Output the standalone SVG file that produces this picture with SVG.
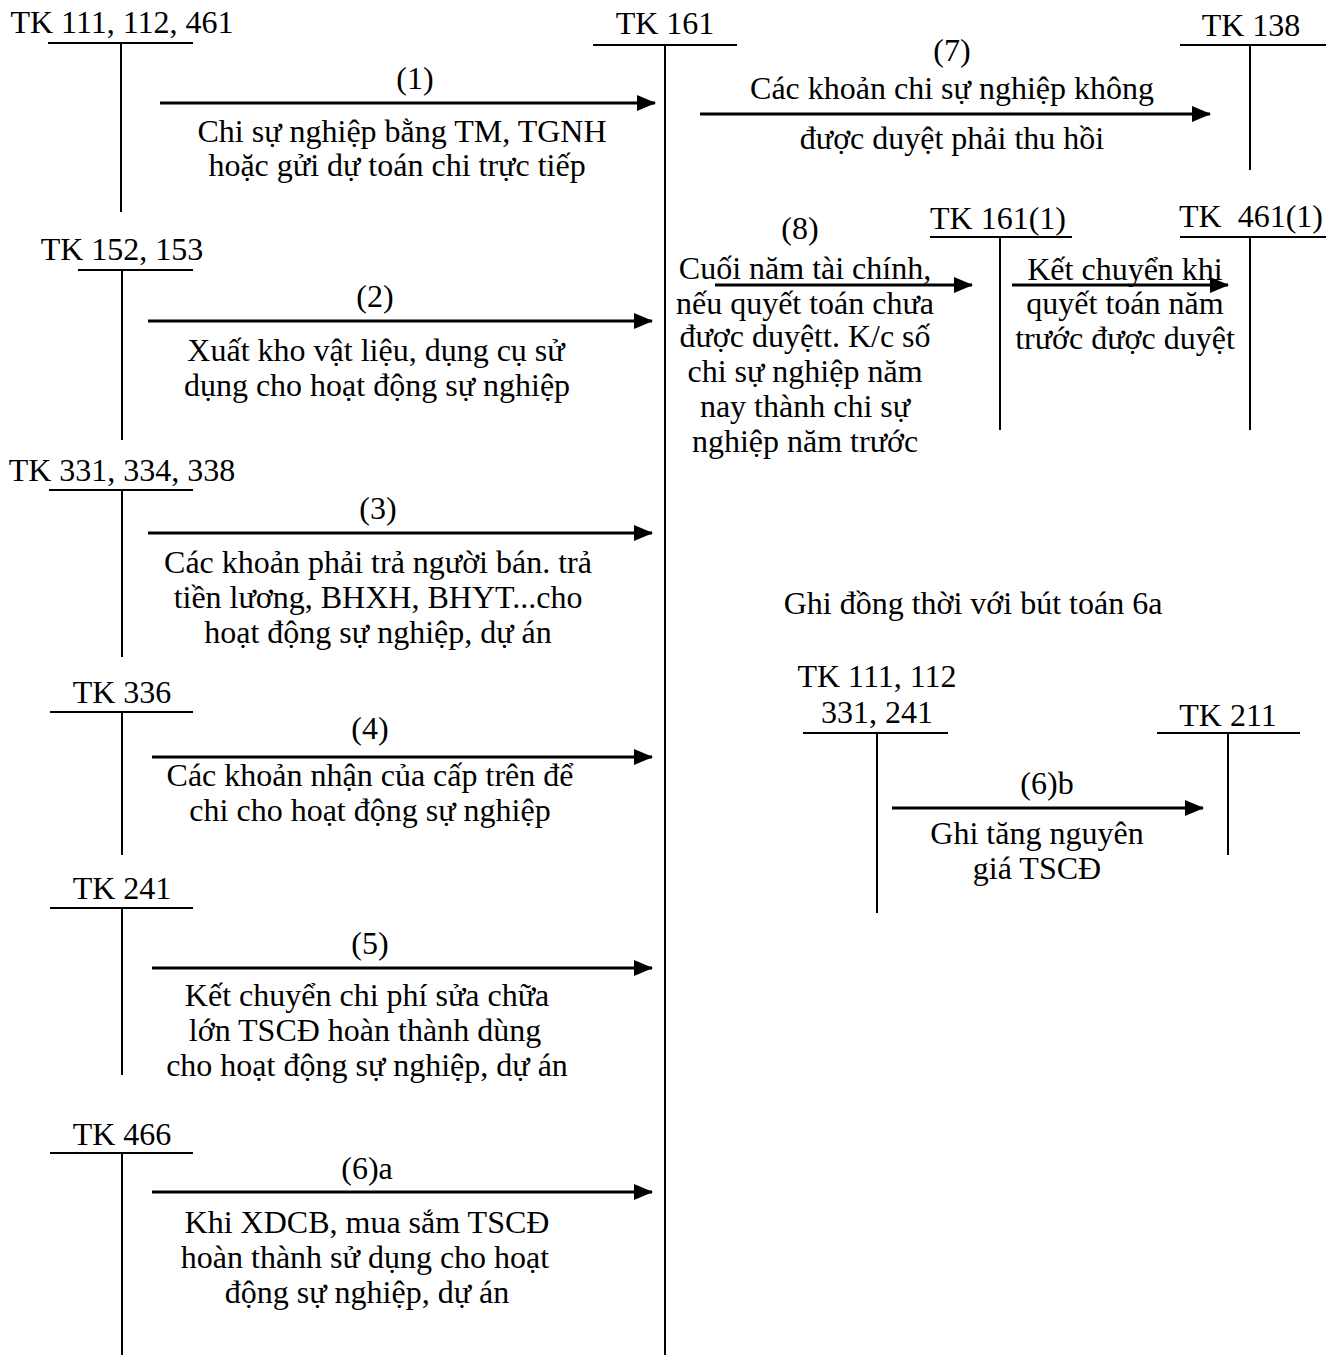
<svg xmlns="http://www.w3.org/2000/svg" width="1326" height="1365" viewBox="0 0 1326 1365">
<style>
text{font-family:"Liberation Serif","Times New Roman",serif;font-size:32px;fill:#000}
.c{text-anchor:middle}
.t{stroke:#000;stroke-width:2;fill:none}
.a{stroke:#000;stroke-width:3;fill:none;marker-end:url(#ah)}
</style>
<defs>
<marker id="ah" markerUnits="userSpaceOnUse" markerWidth="19" markerHeight="16" refX="18" refY="8" orient="auto">
<path d="M0,0 L19,8 L0,16 Z" fill="#000"/>
</marker>
</defs>
<rect width="1326" height="1365" fill="#fff"/>

<g id="tk111">
<text x="122" y="33" class="c">TK 111, 112, 461</text>
<path class="t" d="M48,43 H193 M121,43 V212"/>
</g>
<g id="tk152">
<text x="122" y="260" class="c">TK 152, 153</text>
<path class="t" d="M78,270 H193 M122,270 V440"/>
</g>
<g id="tk331">
<text x="122" y="481" class="c">TK 331, 334, 338</text>
<path class="t" d="M49,490 H193 M122,490 V657"/>
</g>
<g id="tk336">
<text x="122" y="703" class="c">TK 336</text>
<path class="t" d="M50,712 H193 M122,712 V855"/>
</g>
<g id="tk241">
<text x="122" y="899" class="c">TK 241</text>
<path class="t" d="M50,908 H193 M122,908 V1075"/>
</g>
<g id="tk466">
<text x="122" y="1145" class="c">TK 466</text>
<path class="t" d="M50,1153 H193 M122,1153 V1355"/>
</g>
<g id="tk161">
<text x="665" y="34" class="c">TK 161</text>
<path class="t" d="M593,45 H737 M665,45 V1355"/>
</g>
<g id="tk138">
<text x="1251" y="36" class="c">TK 138</text>
<path class="t" d="M1180,45 H1326 M1250,45 V170"/>
</g>
<g id="tk1611">
<text x="998" y="229" class="c">TK 161(1)</text>
<path class="t" d="M930,237 H1072 M1000,237 V430"/>
</g>
<g id="tk4611">
<text x="1251" y="227" class="c">TK&#160;&#160;461(1)</text>
<path class="t" d="M1180,237 H1326 M1250,237 V430"/>
</g>
<g id="tk111b">
<text x="877" y="687" class="c">TK 111, 112</text>
<text x="877" y="723" class="c">331, 241</text>
<path class="t" d="M803,733 H948 M877,733 V913"/>
</g>
<g id="tk211">
<text x="1228" y="726" class="c">TK 211</text>
<path class="t" d="M1157,733 H1300 M1228,733 V855"/>
</g>
<g id="note">
<text x="973" y="614" class="c">Ghi đồng thời với bút toán 6a</text>
</g>

<g id="connectors">
<path class="a" d="M160,103 H655"/>
<path class="a" d="M148,321 H652"/>
<path class="a" d="M148,533 H652"/>
<path class="a" d="M152,757 H652"/>
<path class="a" d="M152,968 H652"/>
<path class="a" d="M152,1192 H652"/>
<path class="a" d="M700,114 H1210"/>
<path class="a" d="M715,285 H972"/>
<path class="a" d="M1012,285 H1228"/>
<path class="a" d="M892,808 H1203"/>
</g>

<g id="labels">
<text x="415" y="89" class="c">(1)</text>
<text x="402" y="142" class="c">Chi sự nghiệp bằng TM, TGNH</text>
<text x="397" y="176" class="c">hoặc gửi dự toán chi trực tiếp</text>

<text x="375" y="307" class="c">(2)</text>
<text x="376" y="361" class="c">Xuất kho vật liệu, dụng cụ sử</text>
<text x="377" y="396" class="c">dụng cho hoạt động sự nghiệp</text>

<text x="378" y="519" class="c">(3)</text>
<text x="378" y="573" class="c">Các khoản phải trả người bán. trả</text>
<text x="378" y="608" class="c">tiền lương, BHXH, BHYT...cho</text>
<text x="378" y="643" class="c">hoạt động sự nghiệp, dự án</text>

<text x="370" y="739" class="c">(4)</text>
<text x="370" y="786" class="c">Các khoản nhận của cấp trên để</text>
<text x="370" y="821" class="c">chi cho hoạt động sự nghiệp</text>

<text x="370" y="954" class="c">(5)</text>
<text x="367" y="1006" class="c">Kết chuyển chi phí sửa chữa</text>
<text x="365" y="1041" class="c">lớn TSCĐ hoàn thành dùng</text>
<text x="367" y="1076" class="c">cho hoạt động sự nghiệp, dự án</text>

<text x="367" y="1179" class="c">(6)a</text>
<text x="367" y="1233" class="c">Khi XDCB, mua sắm TSCĐ</text>
<text x="365" y="1268" class="c">hoàn thành sử dụng cho hoạt</text>
<text x="367" y="1303" class="c">động sự nghiệp, dự án</text>

<text x="952" y="61" class="c">(7)</text>
<text x="952" y="99" class="c">Các khoản chi sự nghiệp không</text>
<text x="952" y="149" class="c">được duyệt phải thu hồi</text>

<text x="800" y="239" class="c">(8)</text>
<text x="805" y="279" class="c">Cuối năm tài chính,</text>
<text x="805" y="314" class="c">nếu quyết toán chưa</text>
<text x="805" y="347" class="c">được duyệtt. K/c số</text>
<text x="805" y="382" class="c">chi sự nghiệp năm</text>
<text x="805" y="417" class="c">nay thành chi sự</text>
<text x="805" y="452" class="c">nghiệp năm trước</text>

<text x="1125" y="280" class="c">Kết chuyển khi</text>
<text x="1125" y="314" class="c">quyết toán năm</text>
<text x="1125" y="349" class="c">trước được duyệt</text>

<text x="1047" y="794" class="c">(6)b</text>
<text x="1037" y="844" class="c">Ghi tăng nguyên</text>
<text x="1037" y="879" class="c">giá TSCĐ</text>
</g>
</svg>
